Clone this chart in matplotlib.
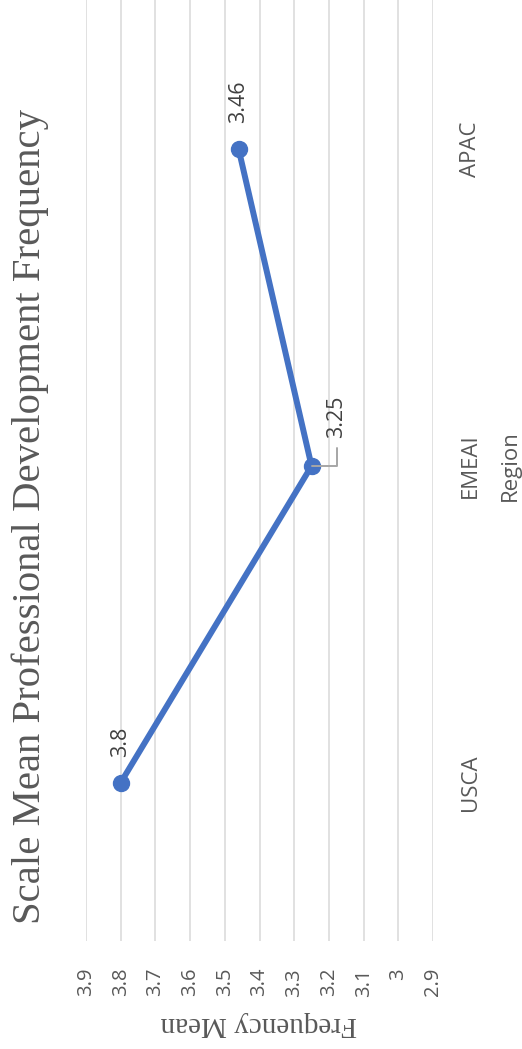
import matplotlib.pyplot as plt

regions = ['USCA', 'EMEAI', 'APAC']
freq_mean = [3.8, 3.25, 3.46]
value_ticks = [3.9, 3.8, 3.7, 3.6, 3.5, 3.4, 3.3, 3.2, 3.1, 3.0, 2.9]
value_tick_labels = ['3.9', '3.8', '3.7', '3.6', '3.5', '3.4', '3.3', '3.2', '3.1', '3', '2.9']

grey = '#595959'
blue = '#4472C4'
sans = ['Open Sans', 'DejaVu Sans']
serif = ['Liberation Serif', 'DejaVu Serif']

W, H = 522, 1049
fig = plt.figure(figsize=(W / 100, H / 100), dpi=100)
ax = fig.add_axes([86 / W, 108 / H, 347 / W, 950 / H])

pos = list(range(len(regions)))

# value axis runs left -> right from high to low, regions go bottom -> top
ax.plot(freq_mean, pos, color=blue, linewidth=4.3, marker='o', markersize=11.5,
        solid_capstyle='round', zorder=3)

ax.set_xlim(3.9, 2.9)
ax.set_ylim(-0.5, len(regions) - 0.5)

ax.set_xticks(value_ticks)
ax.set_xticklabels(value_tick_labels, rotation=90, family=sans, fontsize=14.5, color=grey)
ax.tick_params(axis='x', length=0, pad=19.4)
ax.grid(axis='x', color='#D9D9D9', linewidth=1.1)
ax.set_axisbelow(True)

ax.yaxis.tick_right()
ax.set_yticks(pos)
ax.set_yticklabels(regions, rotation=90, va='center', family=sans, fontsize=16, color=grey)
ax.tick_params(axis='y', length=0, pad=19.4)

for s in ax.spines.values():
    s.set_visible(False)

# data labels
offsets = [(0, 26), (25, 28), (0, 26)]
for x, y, off in zip(freq_mean, pos, offsets):
    ax.annotate(f'{x:g}', xy=(x, y), xytext=off, textcoords='offset pixels',
                rotation=90, ha='center', va='bottom', family=sans, fontsize=15.5,
                color='#404040')

# leader line for the EMEAI label
ax.annotate('', xy=(freq_mean[1], pos[1]), xytext=(25, 18), textcoords='offset pixels',
            arrowprops=dict(arrowstyle='-', color='#A6A6A6', lw=1.4, shrinkA=0, shrinkB=0,
                            connectionstyle='angle,angleA=90,angleB=0,rad=0'))

fig.text(30 / W, 1 - 517 / H, 'Scale Mean Professional Development Frequency',
         rotation=90, ha='center', va='center', family=serif, fontsize=29.3, color=grey)
fig.text(259 / W, 1 - 1024 / H, 'Frequency Mean', rotation=180, ha='center', va='center',
         family=serif, fontsize=21, color=grey)
fig.text(510 / W, 1 - 466 / H, 'Region', rotation=90, ha='center', va='center',
         family=sans, fontsize=16, color=grey)

fig.savefig('out.png', dpi=100)
